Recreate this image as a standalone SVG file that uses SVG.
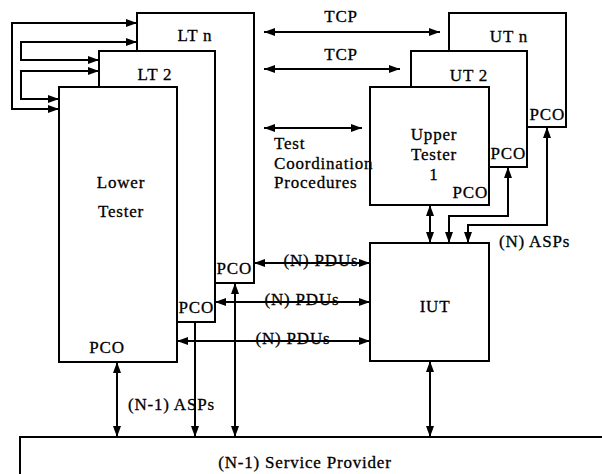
<svg xmlns="http://www.w3.org/2000/svg" width="602" height="474" viewBox="0 0 602 474">
<style>
.box{fill:none;stroke:#000;stroke-width:2;stroke-linejoin:miter}
.c{fill:none;stroke:#000;stroke-width:2}
.t{font-family:"Liberation Serif","Times New Roman",serif;font-size:17px;letter-spacing:0.8px;fill:#000;stroke:#000;stroke-width:0.3px}
.m{text-anchor:middle}
.e{text-anchor:end}
</style>
<defs>
<marker id="a" markerUnits="userSpaceOnUse" markerWidth="12" markerHeight="9" refX="11" refY="4" orient="auto-start-reverse">
<path d="M0,0 L11,4 L0,8 z" fill="#000"/>
</marker>
</defs>
<rect width="602" height="474" fill="#fff"/>
<g id="sp">
<path class="box" d="M20,480 V437 H610"/>
<text class="t m" x="305" y="468">(N-1) Service Provider</text>
</g>
<g id="ltn">
<path class="box" d="M137,51 V13 H254 V283 H215"/>
<text class="t m" x="195" y="41">LT n</text>
<text class="t e" x="252" y="274">PCO</text>
</g>
<g id="lt2">
<path class="box" d="M99,87 V51 H215 V322 H177"/>
<text class="t m" x="155" y="80">LT 2</text>
<text class="t e" x="214" y="313">PCO</text>
</g>
<g id="lt1">
<rect class="box" x="59" y="87" width="118" height="275"/>
<text class="t m" x="121" y="188">Lower</text>
<text class="t m" x="121" y="217">Tester</text>
<text class="t m" x="107" y="353">PCO</text>
</g>
<g id="utn">
<path class="box" d="M449,51 V13 H566 V127 H527"/>
<text class="t m" x="509" y="42">UT n</text>
<text class="t e" x="565" y="120">PCO</text>
</g>
<g id="ut2">
<path class="box" d="M411,87 V51 H527 V167 H489"/>
<text class="t m" x="469" y="81">UT 2</text>
<text class="t e" x="526" y="159">PCO</text>
</g>
<g id="ut1">
<rect class="box" x="370" y="87" width="119" height="118"/>
<text class="t m" x="434" y="140">Upper</text>
<text class="t m" x="434" y="160">Tester</text>
<text class="t m" x="434" y="180">1</text>
<text class="t e" x="488" y="198">PCO</text>
</g>
<g id="iut">
<rect class="box" x="370" y="243" width="119" height="118"/>
<text class="t m" x="435" y="312">IUT</text>
</g>
<g id="labels">
<text class="t m" x="341" y="22">TCP</text>
<text class="t m" x="341" y="60">TCP</text>
<text class="t" x="274" y="149">Test</text>
<text class="t" x="274" y="169">Coordination</text>
<text class="t" x="274" y="188">Procedures</text>
<text class="t m" x="321" y="266">(N) PDUs</text>
<text class="t m" x="302" y="305">(N) PDUs</text>
<text class="t m" x="293" y="344">(N) PDUs</text>
<text class="t" x="499" y="247">(N) ASPs</text>
<text class="t" x="128" y="410">(N-1) ASPs</text>
</g>
<g id="connectors">
<path class="c" d="M137,23 H12 V109 H59" marker-start="url(#a)" marker-end="url(#a)"/>
<path class="c" d="M137,42 H21 V60 H99" marker-start="url(#a)" marker-end="url(#a)"/>
<path class="c" d="M99,71 H21 V99 H59" marker-start="url(#a)" marker-end="url(#a)"/>
<path class="c" d="M264,32 H440" marker-start="url(#a)" marker-end="url(#a)"/>
<path class="c" d="M264,69 H400" marker-start="url(#a)" marker-end="url(#a)"/>
<path class="c" d="M264,128 H362" marker-start="url(#a)" marker-end="url(#a)"/>
<path class="c" d="M430,205 V243" marker-start="url(#a)" marker-end="url(#a)"/>
<path class="c" d="M508,167 V216 H449 V243" marker-start="url(#a)" marker-end="url(#a)"/>
<path class="c" d="M547,127 V225 H468 V243" marker-start="url(#a)" marker-end="url(#a)"/>
<path class="c" d="M254,263 H370" marker-start="url(#a)" marker-end="url(#a)"/>
<path class="c" d="M215,302 H370" marker-start="url(#a)" marker-end="url(#a)"/>
<path class="c" d="M177,341 H370" marker-start="url(#a)" marker-end="url(#a)"/>
<path class="c" d="M117,362 V437" marker-start="url(#a)" marker-end="url(#a)"/>
<path class="c" d="M195,322 V437" marker-end="url(#a)"/>
<path class="c" d="M235,283 V437" marker-start="url(#a)" marker-end="url(#a)"/>
<path class="c" d="M430,361 V437" marker-start="url(#a)" marker-end="url(#a)"/>
</g>
</svg>
